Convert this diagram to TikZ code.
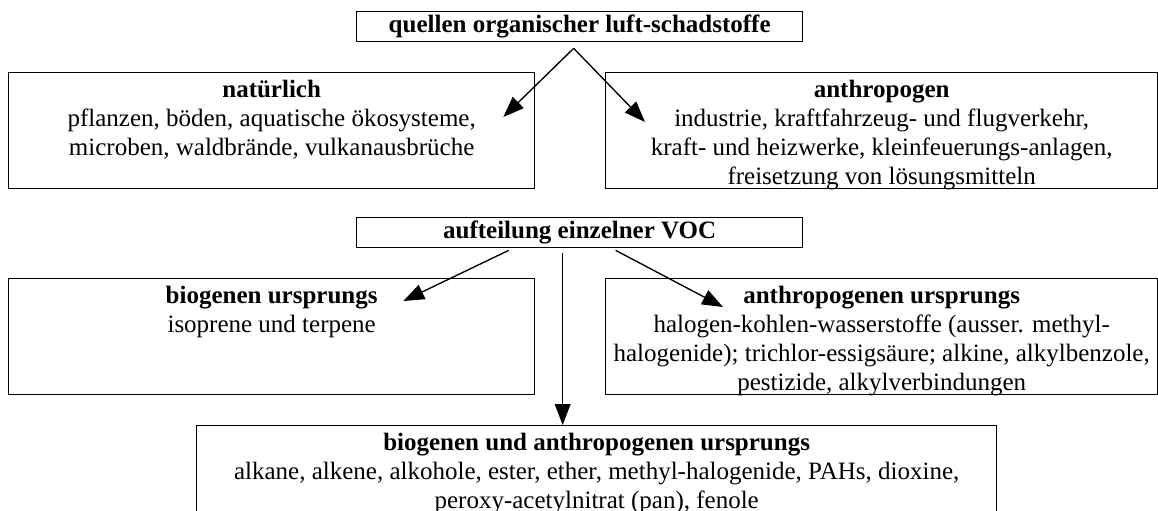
\documentclass[tikz,border=0pt]{standalone}
\usepackage{fontspec}
\setmainfont{Liberation Serif}
\usetikzlibrary{arrows.meta,calc}
\begin{document}
\begin{tikzpicture}[x = 0.48pt, y = -0.48pt, font = \fontsize{12}{13.8}\selectfont,
  box/.style = {draw = black, line width = 0.65pt, rectangle, inner sep = 0pt, anchor = north west},
  boxtext/.style = {align = center, inner sep = 0pt, anchor = north},
  arrow/.style = {draw = black, line width = 0.65pt, -{Triangle[length = 10pt, width = 7.5pt]}}]
\pgfmathsetlengthmacro\unit{0.48pt};
\useasboundingbox (0,0) rectangle (1158,511);
\node[box, minimum width = 446*\unit, minimum height = 30*\unit] (sources) at (356,11) {\textbf{quellen organischer luft-schadstoffe}};
\node[box, minimum width = 526*\unit, minimum height = 116*\unit] (natural) at (8,72) {};
\node[boxtext] (naturaltext) at ($(natural.north)+(0,8)$) {\textbf{natürlich}\\pflanzen, böden, aquatische ökosysteme,\\microben, waldbrände, vulkanausbrüche};
\node[box, minimum width = 552*\unit, minimum height = 116*\unit] (anthro) at (605,72) {};
\node[boxtext] (anthrotext) at ($(anthro.north)+(0,8)$) {\textbf{anthropogen}\\industrie, kraftfahrzeug- und flugverkehr,\\kraft- und heizwerke, kleinfeuerungs-anlagen,\\freisetzung von lösungsmitteln};
\node[box, minimum width = 446*\unit, minimum height = 30*\unit] (split) at (356,217) {\textbf{aufteilung einzelner VOC}};
\node[box, minimum width = 526*\unit, minimum height = 116*\unit] (bio) at (8,278) {};
\node[boxtext] (biotext) at ($(bio.north)+(0,8)$) {\textbf{biogenen ursprungs}\\isoprene und terpene};
\node[box, minimum width = 552*\unit, minimum height = 116*\unit] (anthrob) at (605,278) {};
\node[boxtext] (anthrobtext) at ($(anthrob.north)+(0,8)$) {\textbf{anthropogenen ursprungs}\\halogen-kohlen-wasserstoffe (ausser. methyl-\\halogenide); trichlor-essigsäure; alkine, alkylbenzole,\\pestizide, alkylverbindungen};
\node[box, minimum width = 800*\unit, minimum height = 96*\unit] (both) at (196,425) {};
\node[boxtext] (bothtext) at ($(both.north)+(0,8)$) {\textbf{biogenen und anthropogenen ursprungs}\\alkane, alkene, alkohole, ester, ether, methyl-halogenide, PAHs, dioxine,\\peroxy-acetylnitrat (pan), fenole};
\coordinate (sourcesfork) at ($(sources.south)+(-6,6)$);
\coordinate (naturaltip) at ($(natural.north east)+(-32,45)$);
\coordinate (anthrotip) at ($(anthro.north west)+(40,50)$);
\draw[arrow] (sourcesfork) -- (naturaltip);
\draw[arrow] (sourcesfork) -- (anthrotip);
\coordinate (splitleft) at ($(split.south)+(-71,2)$);
\coordinate (splitright) at ($(split.south)+(36,2)$);
\coordinate (splitdown) at ($(split.south)+(-17,5)$);
\coordinate (biotip) at ($(bio.north east)+(-132,23)$);
\coordinate (anthrobtip) at ($(anthrob.north west)+(118,29)$);
\draw[arrow] (splitleft) -- (biotip);
\draw[arrow] (splitright) -- (anthrobtip);
\draw[arrow] (splitdown) -- (splitdown |- both.north);
\end{tikzpicture}
\end{document}
